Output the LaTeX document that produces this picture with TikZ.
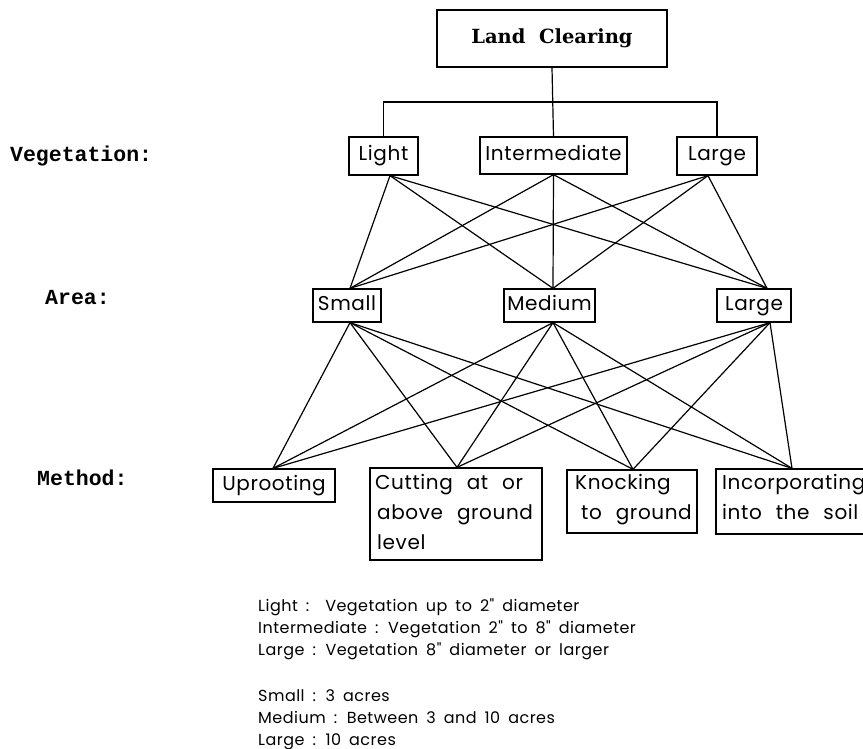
\documentclass[tikz,border=0pt]{standalone}
\usepackage{fontspec}
\setmainfont{Poppins}[Ligatures=TeXOff, LetterSpace=3]
\newfontfamily\titlefont{DejaVu Serif}
\newfontfamily\rowfont{Liberation Mono}
\newcommand\widespace[1]{\spaceskip=#1 plus 2pt\relax}
\begin{document}
\begin{tikzpicture}[x=1pt,y=-1pt,
  box/.style={draw, line width=1.3pt, inner sep=0pt, text height=14.5pt, text depth=4.5pt,
              font=\fontsize{20}{30}\selectfont},
  mtext/.style={anchor=north west, align=left, inner sep=0pt,
              font=\fontsize{20}{30}\selectfont\widespace{14pt}},
  link/.style={line width=1.2pt},
  rowlabel/.style={anchor=west, inner sep=0pt, font=\rowfont\bfseries\fontsize{21.5}{24}\selectfont},
  legend/.style={anchor=base west, inner sep=0pt, font=\fontsize{16}{18}\selectfont\widespace{8pt}}]
\useasboundingbox (0,0) rectangle (863,749);
\fill[white] (0,0) rectangle (863,749);

% root
\node[draw, line width=1.3pt, minimum width=230pt, minimum height=57pt,
      font=\titlefont\bfseries\fontsize{19.5}{24}\selectfont] (root) at (552,38.5) {Land\ \ Clearing};

% vegetation row
\node[box, minimum width=69pt, minimum height=38pt] (vlight) at (383.5,156) {Light};
\node[box, minimum width=147pt, minimum height=37pt] (vinter) at (553.5,155.5) {Intermediate};
\node[box, minimum width=80pt, minimum height=38pt] (vlarge) at (717,156) {Large};

% area row
\node[box, minimum width=68pt, minimum height=33pt] (asmall) at (347,305.5) {Small};
\node[box, minimum width=91pt, minimum height=33pt] (amed) at (549.5,305.5) {Medium};
\node[box, minimum width=74pt, minimum height=33pt] (alarge) at (754,305.5) {Large};

% method row
\node[box, minimum width=122pt, minimum height=33pt] (muproot) at (274,485.5) {Uprooting};
\node[box, minimum width=172pt, minimum height=92pt] (mcut) at (456,514) {};
\node[box, minimum width=130pt, minimum height=63pt] (mknock) at (632,501.5) {};
\node[box, minimum width=160pt, minimum height=65pt] (minc) at (796,501.5) {};
\node[mtext] (tcut) at (375,474) {Cutting at or\\\hspace{2pt}above ground\\\hspace{2pt}level};
\node[mtext] (tknock) at (575,474) {Knocking\\\hspace{6pt}to ground};
\node[mtext] (tinc) at (722,474) {Incorporating\\into the soil};

% row labels
\node[rowlabel] (lveg) at (10,156) {Vegetation:};
\node[rowlabel] (larea) at (45,298) {Area:};
\node[rowlabel] (lmeth) at (37,478) {Method:};

% connection ports
\coordinate (bar) at (553,102);
\coordinate (vlight-b) at ([xshift=6.5pt]vlight.south);
\coordinate (vinter-b) at (vinter.south);
\coordinate (vlarge-b) at ([xshift=-9pt]vlarge.south);
\coordinate (asmall-t) at ([xshift=3pt]asmall.north);
\coordinate (amed-t) at ([xshift=3.5pt]amed.north);
\coordinate (alarge-t) at ([xshift=13pt]alarge.north);
\coordinate (asmall-b) at ([xshift=3pt]asmall.south);
\coordinate (amed-b) at ([xshift=3.5pt]amed.south);
\coordinate (alarge-b) at ([xshift=16pt]alarge.south);
\coordinate (muproot-t) at ([xshift=-1pt]muproot.north);
\coordinate (mcut-t) at ([xshift=1pt]mcut.north);
\coordinate (mknock-t) at ([xshift=1pt]mknock.north);
\coordinate (minc-t) at ([xshift=-4pt]minc.north);

% tree from the root
\draw[link] (root.south) -- (vinter.north);
\draw[link] (vlight.north) |- (bar) -| (vlarge.north);

% vegetation to area
\foreach \v in {vlight-b,vinter-b,vlarge-b}
  \foreach \a in {asmall-t,amed-t,alarge-t}
    \draw[link] (\v) -- (\a);

% area to method
\foreach \a in {asmall-b,amed-b,alarge-b}
  \foreach \m in {muproot-t,mcut-t,mknock-t,minc-t}
    \draw[link] (\a) -- (\m);

% legend
\node[legend] (leg1) at (258,611) {Light :\ \ Vegetation up to 2" diameter};
\node[legend] (leg2) at (258,633) {Intermediate : Vegetation 2" to 8" diameter};
\node[legend] (leg3) at (258,655) {Large : Vegetation 8" diameter or larger};
\node[legend] (leg4) at (258,701) {Small : 3 acres};
\node[legend] (leg5) at (258,723) {Medium : Between 3 and 10 acres};
\node[legend] (leg6) at (258,745) {Large : 10 acres};
\end{tikzpicture}
\end{document}
